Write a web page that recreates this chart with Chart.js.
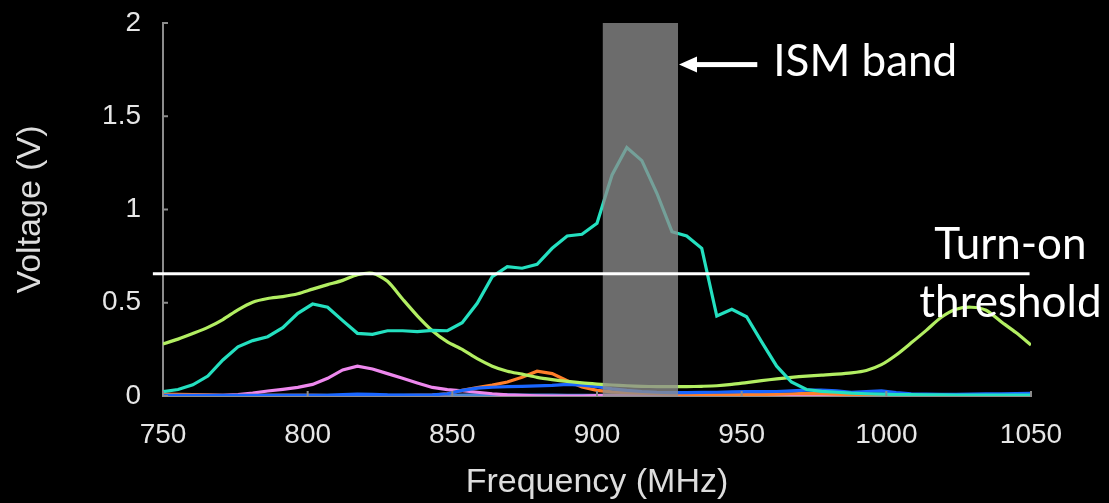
<!DOCTYPE html>
<html>
<head>
<meta charset="utf-8">
<title>Voltage vs Frequency</title>
<script src="https://cdn.jsdelivr.net/npm/chart.js@4.4.1/dist/chart.umd.min.js"></script>
<style>
  html, body { margin: 0; padding: 0; background: #000; }
  #wrap { width: 1109px; height: 503px; }
</style>
</head>
<body>
<div id="wrap"><canvas id="chart" width="1109" height="503"></canvas></div>
<script>
const freqs = [750, 755.2, 760.3, 765.5, 770.7, 775.9, 781.0, 786.2, 791.4, 796.6,
               801.7, 806.9, 812.1, 817.2, 822.4, 827.6, 832.8, 837.9, 843.1, 848.3,
               853.4, 858.6, 863.8, 869.0, 874.1, 879.3, 884.5, 889.7, 894.8, 900.0,
               905.2, 910.3, 915.5, 920.7, 925.9, 931.0, 936.2, 941.4, 946.6, 951.7,
               956.9, 962.1, 967.2, 972.4, 977.6, 982.8, 987.9, 993.1, 998.3, 1003.4,
               1008.6, 1013.8, 1019.0, 1024.1, 1029.3, 1034.5, 1039.7, 1044.8, 1050];

const tealV = [0.023, 0.035, 0.06, 0.107, 0.193, 0.264, 0.297, 0.318, 0.366, 0.443,
               0.493, 0.476, 0.404, 0.336, 0.331, 0.35, 0.35, 0.345, 0.352, 0.35,
               0.393, 0.497, 0.64, 0.693, 0.685, 0.706, 0.792, 0.858, 0.867, 0.926,
               1.185, 1.332, 1.262, 1.087, 0.881, 0.858, 0.792, 0.429, 0.465, 0.425,
               0.29, 0.16, 0.075, 0.035, 0.025, 0.02, 0.015, 0.012, 0.01, 0.008,
               0.007, 0.006, 0.006, 0.005, 0.005, 0.005, 0.005, 0.005, 0.005];

const greenV = [0.279, 0.305, 0.335, 0.368, 0.41, 0.462, 0.503, 0.523, 0.533, 0.548,
                0.573, 0.597, 0.62, 0.65, 0.658, 0.615, 0.52, 0.43, 0.35, 0.29,
                0.25, 0.2, 0.16, 0.133, 0.117, 0.1, 0.088, 0.078, 0.07, 0.064,
                0.059, 0.055, 0.052, 0.05, 0.05, 0.05, 0.052, 0.055, 0.062, 0.072,
                0.082, 0.092, 0.1, 0.107, 0.112, 0.117, 0.124, 0.137, 0.168, 0.22,
                0.285, 0.352, 0.422, 0.465, 0.476, 0.46, 0.398, 0.34, 0.273];

const blueV = [0.004, 0.004, 0.004, 0.004, 0.004, 0.004, 0.004, 0.004, 0.004, 0.004,
               0.004, 0.004, 0.008, 0.01, 0.009, 0.006, 0.005, 0.005, 0.006, 0.012,
               0.03, 0.042, 0.047, 0.05, 0.052, 0.054, 0.057, 0.062, 0.058, 0.05,
               0.038, 0.03, 0.024, 0.02, 0.018, 0.018, 0.019, 0.02, 0.022, 0.023,
               0.023, 0.024, 0.028, 0.032, 0.032, 0.028, 0.02, 0.024, 0.027, 0.018,
               0.012, 0.01, 0.009, 0.009, 0.01, 0.011, 0.012, 0.013, 0.014];

const orangeV = [0.01, 0.009, 0.008, 0.006, 0.004, 0.003, 0.003, 0.003, 0.003, 0.003,
                 0.003, 0.002, 0.002, 0.002, 0.002, 0.002, 0.002, 0.003, 0.005, 0.012,
                 0.03, 0.045, 0.058, 0.075, 0.1, 0.133, 0.12, 0.082, 0.048, 0.03,
                 0.022, 0.018, 0.015, 0.012, 0.01, 0.008, 0.007, 0.006, 0.006, 0.007,
                 0.008, 0.01, 0.012, 0.014, 0.012, 0.01, 0.008, 0.006, 0.005, 0.005,
                 0.005, 0.005, 0.005, 0.005, 0.005, 0.005, 0.005, 0.005, 0.005];

const pinkV = [0.005, 0.004, 0.003, 0.003, 0.004, 0.008, 0.015, 0.027, 0.036, 0.046,
               0.062, 0.095, 0.14, 0.16, 0.145, 0.12, 0.095, 0.07, 0.046, 0.034,
               0.028, 0.02, 0.012, 0.006, 0.003, 0.001, 0, 0, 0, 0.002,
               0.003, 0.004, 0.004, 0.003, 0.002, 0.001, 0.001, 0.002, 0.002, 0.003,
               0.004, 0.005, 0.007, 0.009, 0.01, 0.008, 0.004, 0.002, 0.002, 0.002,
               0.002, 0.002, 0.002, 0.002, 0.002, 0.002, 0.002, 0.002, 0.002];

const steelV = [0.003, 0.003, 0.003, 0.002, 0.002, 0.002, 0.002, 0.003, 0.003, 0.003,
                0.003, 0.003, 0.004, 0.004, 0.003, 0.003, 0.003, 0.003, 0.003, 0.004,
                0.005, 0.006, 0.006, 0.006, 0.005, 0.005, 0.005, 0.004, 0.004, 0.004,
                0.004, 0.004, 0.004, 0.004, 0.004, 0.004, 0.004, 0.004, 0.005, 0.005,
                0.005, 0.005, 0.005, 0.006, 0.006, 0.005, 0.005, 0.004, 0.004, 0.004,
                0.004, 0.004, 0.004, 0.004, 0.004, 0.004, 0.004, 0.004, 0.004];

const xTicks = [750, 800, 850, 900, 950, 1000, 1050];
const xTickLabels = ['750', '800', '850', '900', '950', '1000', '1050'];
const yTicks = [0, 0.5, 1, 1.5, 2];
const yTickLabels = ['0', '0.5', '1', '1.5', '2'];
const ismBand = [902, 928];
const threshold = 0.655;

// ─── helpers ───
const pts = vals => vals.map((v, i) => ({ x: freqs[i], y: v }));
const line = (data, color, tension = 0) => ({
    data: pts(data), borderColor: color, borderWidth: 3.2,
    pointRadius: 0, tension, fill: false,
});

// ─── overlay: ISM band, threshold line, inward ticks, annotations ───
const overlay = {
    id: 'overlay',
    afterDatasetsDraw(chart) {
        const { ctx, scales: { x, y } } = chart;
        ctx.save();

        // grey ISM band, drawn over the traces
        const bx0 = x.getPixelForValue(ismBand[0]);
        const bx1 = x.getPixelForValue(ismBand[1]);
        const top = y.getPixelForValue(2), bot = y.getPixelForValue(0);
        ctx.fillStyle = 'rgba(140,140,140,0.77)';
        ctx.fillRect(bx0, top, bx1 - bx0, bot - top);

        // turn-on threshold
        const ty = y.getPixelForValue(threshold);
        ctx.strokeStyle = '#ffffff';
        ctx.lineWidth = 3;
        ctx.beginPath();
        ctx.moveTo(x.getPixelForValue(746.5), ty);
        ctx.lineTo(x.getPixelForValue(1049.5), ty);
        ctx.stroke();

        // inward tick marks
        ctx.strokeStyle = '#8c8c8c';
        ctx.lineWidth = 2;
        ctx.beginPath();
        yTicks.forEach(v => {
            const py = y.getPixelForValue(v);
            ctx.moveTo(x.left, py); ctx.lineTo(x.left + 5, py);
        });
        xTicks.forEach(v => {
            const px = x.getPixelForValue(v);
            ctx.moveTo(px, bot); ctx.lineTo(px, bot - 5);
        });
        ctx.stroke();

        // arrow pointing at the band
        const ay = y.getPixelForValue(1.777);
        const tip = bx1 + 1, tail = x.getPixelForValue(955.4);
        ctx.fillStyle = '#ffffff';
        ctx.fillRect(tip + 14, ay - 2.5, tail - tip - 14, 5);
        ctx.beginPath();
        ctx.moveTo(tip, ay);
        ctx.lineTo(tip + 18, ay - 8);
        ctx.lineTo(tip + 18, ay + 8);
        ctx.closePath();
        ctx.fill();

        // text labels
        ctx.font = '44px Lato, "Open Sans", sans-serif';
        ctx.textBaseline = 'alphabetic';
        ctx.textAlign = 'left';
        ctx.fillText('ISM band', x.getPixelForValue(960.9), y.getPixelForValue(1.716));
        ctx.textAlign = 'center';
        const cx = x.getPixelForValue(1042.9);
        ctx.fillText('Turn-on', cx, y.getPixelForValue(0.735));
        ctx.fillText('threshold', cx, y.getPixelForValue(0.424));

        ctx.restore();
    }
};

document.addEventListener('DOMContentLoaded', () => {
    const axisFont = { family: '"Liberation Sans", Arial, Helvetica, sans-serif', size: 28 };
    const titleFont = { family: '"Liberation Sans", Arial, Helvetica, sans-serif', size: 34 };

    new Chart(document.getElementById('chart'), {
        type: 'line',
        data: {
            datasets: [
                line(tealV, '#24e0c0'),
                line(greenV, '#b2ee62', 0.25),
                line(blueV, '#1a66ff'),
                line(orangeV, '#ff7f2a'),
                line(pinkV, '#ee88ee'),
                line(steelV, '#4a86d8'),
            ]
        },
        options: {
            responsive: false,
            animation: false,
            devicePixelRatio: 1,
            layout: { padding: { left: 0, right: 78, top: 23, bottom: 0 } },
            plugins: { legend: { display: false }, tooltip: { enabled: false } },
            scales: {
                x: {
                    type: 'linear', min: 750, max: 1050,
                    afterBuildTicks: axis => { axis.ticks = xTicks.map(v => ({ value: v })); },
                    afterFit: axis => { axis.height = 107; },
                    grid: { display: false, drawTicks: false },
                    border: { display: true, color: '#8c8c8c', width: 2 },
                    ticks: {
                        color: '#e6e6e6', font: axisFont, padding: 22, maxRotation: 0,
                        callback: v => xTickLabels[xTicks.indexOf(v)],
                    },
                    title: { display: true, text: 'Frequency (MHz)', color: '#dddddd', font: titleFont, padding: 0 },
                },
                y: {
                    min: 0, max: 2,
                    afterBuildTicks: axis => { axis.ticks = yTicks.map(v => ({ value: v })); },
                    afterFit: axis => { axis.width = 163; axis.paddingTop = 0; },
                    grid: { display: false, drawTicks: false },
                    border: { display: true, color: '#8c8c8c', width: 2 },
                    ticks: {
                        color: '#e6e6e6', font: axisFont, padding: 22,
                        callback: v => yTickLabels[yTicks.indexOf(v)],
                    },
                    title: { display: true, text: 'Voltage (V)', color: '#dddddd', font: titleFont, padding: 10 },
                },
            },
        },
        plugins: [overlay],
    });
});
</script>
</body>
</html>
